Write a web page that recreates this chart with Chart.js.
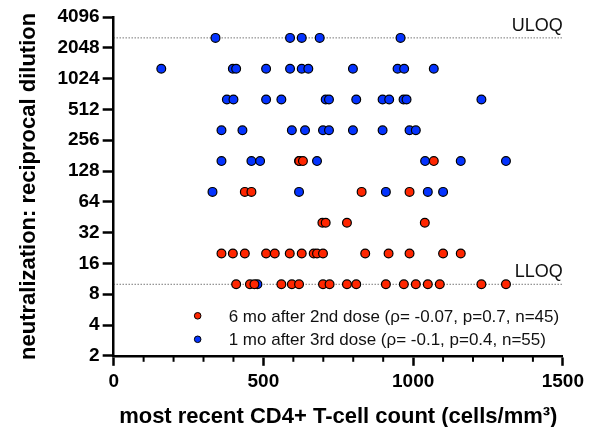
<!DOCTYPE html>
<html>
<head>
<meta charset="utf-8">
<script src="https://cdn.jsdelivr.net/npm/chart.js@4.4.1/dist/chart.umd.min.js"></script>
<style>
  body { margin: 0; background: #fff; }
</style>
</head>
<body>
<canvas id="mychart" width="589" height="427"></canvas>
<script>
// 6 mo after 2nd dose
var redCount = [620, 632, 1069,
                438, 460, 828, 988,
                697, 708, 779, 1039,
                360, 398, 438, 509, 538, 588, 628, 668, 679, 699, 840, 918, 988, 1100, 1159,
                409, 455, 470, 560, 595, 619, 699, 721, 779, 810, 909, 969, 1009, 1049, 1089, 1228, 1310]
var redTiter = [160, 160, 160,
                80, 80, 80, 80,
                40, 40, 40, 40,
                20, 20, 20, 20, 20, 20, 20, 20, 20, 20, 20, 20, 20, 20, 20,
                10, 10, 10, 10, 10, 10, 10, 10, 10, 10, 10, 10, 10, 10, 10, 10, 10]

// 1 mo after 3rd dose
var blueCount = [340, 589, 628, 688, 958,
                 159, 398, 409, 509, 589, 628, 650, 799, 948, 970, 1069,
                 378, 400, 509, 560, 708, 719, 810, 898, 920, 968, 978, 1228,
                 360, 430, 595, 639, 699, 719, 799, 898, 988, 1009,
                 360, 460, 489, 619, 679, 1040, 1159, 1310,
                 330, 619, 909, 1049, 1100,
                 480]
var blueTiter = [2560, 2560, 2560, 2560, 2560,
                 1280, 1280, 1280, 1280, 1280, 1280, 1280, 1280, 1280, 1280, 1280,
                 640, 640, 640, 640, 640, 640, 640, 640, 640, 640, 640, 640,
                 320, 320, 320, 320, 320, 320, 320, 320, 320, 320,
                 160, 160, 160, 160, 160, 160, 160, 160,
                 80, 80, 80, 80, 80,
                 10]

var yTicks = [2, 4, 8, 16, 32, 64, 128, 256, 512, 1024, 2048, 4096]
var xTicks = [0, 500, 1000, 1500]
var uloq = 2560
var lloq = 10
var seriesLabels = ["6 mo after 2nd dose (\u03c1= -0.07, p=0.7, n=45)",
                    "1 mo after 3rd dose (\u03c1= -0.1, p=0.4, n=55)"]
var red = "#ff2600"
var blue = "#0433ff"
var font = "'Liberation Sans', Arial, sans-serif"

function toPoints(xs, ys) {
    return xs.map(function (v, i) { return { x: v, y: ys[i] } })
}

// minor ticks, legend and LLOQ/ULOQ text
var extras = {
    id: 'extras',
    afterDraw: function (chart) {
        var ctx = chart.ctx, area = chart.chartArea
        var x = chart.scales.x, y = chart.scales.y
        ctx.save()
        ctx.strokeStyle = '#000'
        ctx.lineWidth = 2
        for (var v = 100; v < 1500; v += 100) {
            if (v % 500 === 0) continue
            var px = x.getPixelForValue(v)
            ctx.beginPath()
            ctx.moveTo(px, area.bottom)
            ctx.lineTo(px, area.bottom + 6)
            ctx.stroke()
        }

        ctx.fillStyle = '#111'
        ctx.font = '18px ' + font
        ctx.textAlign = 'right'
        ctx.textBaseline = 'alphabetic'
        ctx.fillText('ULOQ', area.right, y.getPixelForValue(uloq) - 7)
        ctx.fillText('LLOQ', area.right, y.getPixelForValue(lloq) - 7)

        var colors = [red, blue]
        ctx.font = '17px ' + font
        ctx.textAlign = 'left'
        seriesLabels.forEach(function (lab, i) {
            var cy = area.bottom - 40 + i * 23.5
            var cx = area.left + 84
            ctx.beginPath()
            ctx.arc(cx, cy, 3.3, 0, Math.PI * 2)
            ctx.fillStyle = colors[i]
            ctx.fill()
            ctx.lineWidth = 1
            ctx.strokeStyle = '#000'
            ctx.stroke()
            ctx.fillStyle = '#111'
            ctx.fillText(lab, cx + 31, cy + 6)
        })
        ctx.restore()
    }
}

var myChart = document.getElementById('mychart').getContext('2d')

var chart = new Chart(myChart, {
    type: 'scatter',
    data: {
        datasets: [
            {
                label: seriesLabels[0],
                data: toPoints(redCount, redTiter),
                backgroundColor: red,
                borderColor: '#000',
                borderWidth: 1.2,
                pointRadius: 4.4,
            },
            {
                label: seriesLabels[1],
                data: toPoints(blueCount, blueTiter),
                backgroundColor: blue,
                borderColor: '#000',
                borderWidth: 1.2,
                pointRadius: 4.4,
            },
            {
                type: 'line',
                label: 'ULOQ',
                data: [{ x: 0, y: uloq }, { x: 1500, y: uloq }],
                borderColor: '#333',
                borderWidth: 1,
                borderDash: [1, 2],
                pointRadius: 0,
            },
            {
                type: 'line',
                label: 'LLOQ',
                data: [{ x: 0, y: lloq }, { x: 1500, y: lloq }],
                borderColor: '#333',
                borderWidth: 1,
                borderDash: [1, 2],
                pointRadius: 0,
            },
        ],
    },
    options: {
        responsive: false,
        animation: false,
        layout: { padding: { left: 14, right: 24, top: 17, bottom: -3 } },
        plugins: {
            legend: { display: false },
            tooltip: { enabled: false },
        },
        scales: {
            x: {
                type: 'linear',
                min: 0,
                max: 1500,
                afterBuildTicks: function (axis) {
                    axis.ticks = xTicks.map(function (v) { return { value: v } })
                },
                ticks: {
                    color: '#000',
                    font: { family: font, size: 19, weight: 'bold' },
                    padding: 5,
                    maxRotation: 0,
                    callback: function (v) { return String(v) },
                },
                grid: {
                    drawOnChartArea: false,
                    drawTicks: true,
                    tickLength: 10,
                    tickWidth: 2.5,
                    tickColor: '#000',
                },
                border: { display: true, color: '#000', width: 2.5 },
                title: {
                    display: true,
                    text: 'most recent CD4+ T-cell count (cells/mm\u00b3)',
                    color: '#000',
                    font: { family: font, size: 22, weight: 'bold' },
                    padding: { top: 5, bottom: 0 },
                },
            },
            y: {
                type: 'logarithmic',
                min: 2,
                max: 4096,
                afterBuildTicks: function (axis) {
                    axis.ticks = yTicks.map(function (v) { return { value: v } })
                },
                ticks: {
                    color: '#000',
                    font: { family: font, size: 19, weight: 'bold' },
                    padding: 3,
                    callback: function (v) { return String(v) },
                },
                grid: {
                    drawOnChartArea: false,
                    drawTicks: true,
                    tickLength: 11,
                    tickWidth: 2.5,
                    tickColor: '#000',
                },
                border: { display: true, color: '#000', width: 2.5 },
                title: {
                    display: true,
                    text: 'neutralization: reciprocal dilution',
                    color: '#000',
                    font: { family: font, size: 22, weight: 'bold' },
                    padding: { top: 2, bottom: 12 },
                },
            },
        },
    },
    plugins: [extras],
});
</script>
</body>
</html>
